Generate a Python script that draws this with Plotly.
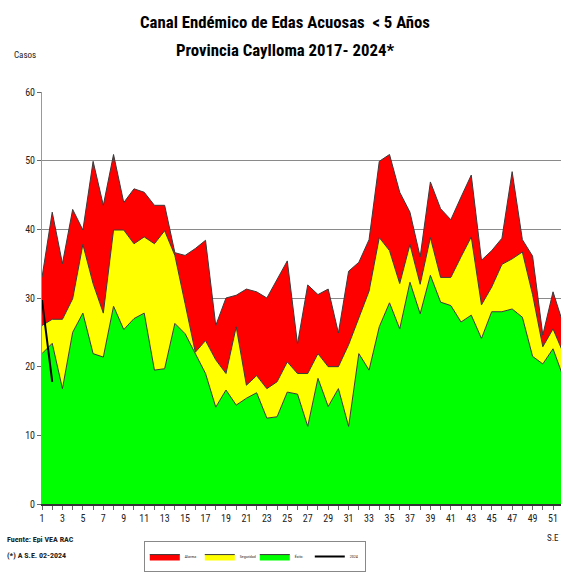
import plotly.graph_objects as go

weeks = list(range(1, 53))

alarma = [33.0, 42.5, 35.0, 42.9, 39.9, 49.9, 43.5, 50.9, 43.9, 45.9,
          45.4, 43.5, 43.5, 36.6, 36.2, 37.2, 38.4, 26.0, 30.0, 30.4,
          31.3, 30.9, 30.0, 32.6, 35.4, 23.3, 31.9, 30.5, 31.3, 24.9,
          33.9, 35.2, 38.5, 49.9, 50.9, 45.4, 42.5, 36.0, 46.9, 43.0,
          41.4, 44.7, 47.9, 35.5, 36.9, 38.7, 48.4, 38.5, 36.1, 24.6,
          30.9, 26.2]

seguridad = [26.0, 26.9, 26.9, 29.9, 37.8, 32.1, 27.8, 39.9, 39.9, 37.9,
             38.9, 37.9, 39.8, 36.2, 29.2, 22.1, 23.8, 21.0, 19.0, 25.8,
             17.3, 18.7, 16.8, 17.8, 20.7, 19.0, 19.0, 21.9, 20.0, 20.0,
             23.2, 27.0, 31.0, 38.8, 36.9, 32.1, 37.8, 32.0, 38.8, 33.0,
             33.0, 36.0, 38.9, 29.0, 31.6, 34.9, 35.7, 36.7, 30.5, 22.9,
             25.5, 22.0]

exito = [21.9, 23.4, 16.8, 25.0, 27.8, 21.9, 21.4, 28.8, 25.4, 27.0,
         27.8, 19.5, 19.7, 26.3, 24.8, 21.9, 19.0, 14.1, 16.6, 14.4,
         15.4, 16.2, 12.5, 12.7, 16.3, 16.0, 11.3, 18.3, 14.2, 16.8,
         11.3, 21.9, 19.5, 25.8, 29.3, 25.5, 32.3, 27.7, 33.3, 29.4,
         28.9, 26.5, 27.5, 24.1, 28.0, 28.0, 28.4, 27.2, 21.5, 20.4,
         22.6, 18.5]

weeks_2024 = [1, 2]
casos_2024 = [29.7, 17.8]

tick_labels = [str(w) if w % 2 == 1 else "" for w in weeks]

narrow = "Roboto Condensed, Liberation Sans, Arial, sans-serif"
outline = dict(color="#3a3a3a", width=1)

fig = go.Figure()
fig.add_trace(go.Scatter(x=weeks, y=exito, name="Éxito", mode="lines",
                         fill="tozeroy", fillcolor="#00FF00", line=outline,
                         legendrank=3))
fig.add_trace(go.Scatter(x=weeks, y=seguridad, name="Seguridad", mode="lines",
                         fill="tonexty", fillcolor="#FFFF00", line=outline,
                         legendrank=2))
fig.add_trace(go.Scatter(x=weeks, y=alarma, name="Alarma", mode="lines",
                         fill="tonexty", fillcolor="#FF0000", line=outline,
                         legendrank=1))
fig.add_trace(go.Scatter(x=weeks_2024, y=casos_2024, name="2024", mode="lines",
                         line=dict(color="#000000", width=2), legendrank=4))

fig.update_layout(
    width=561, height=574,
    margin=dict(l=42, r=0, t=92, b=70),
    paper_bgcolor="white", plot_bgcolor="white",
    font=dict(family=narrow, color="#222222", size=10),
    showlegend=True,
    legend=dict(orientation="h", traceorder="normal",
                x=0.41, xanchor="center", y=-0.09, yanchor="top",
                bordercolor="#888888", borderwidth=1, font=dict(size=4),
                itemwidth=30, entrywidth=10, bgcolor="white", tracegroupgap=0),
    xaxis=dict(range=[1, 51.78], tickvals=weeks, ticktext=tick_labels,
               ticks="outside", ticklen=4, tickcolor="#666666",
               showgrid=False, zeroline=False, showline=True,
               linecolor="#333333", linewidth=1.5,
               tickfont=dict(size=10, family=narrow, color="#222222")),
    yaxis=dict(range=[0, 60], dtick=10, ticks="outside", ticklen=4,
               tickcolor="#666666", showgrid=True, gridcolor="#8a8a8a",
               gridwidth=1.2, zeroline=False, showline=True,
               linecolor="#999999", linewidth=1,
               tickfont=dict(size=10, family=narrow, color="#222222")),
    annotations=[
        dict(text="<b>Canal Endémico de Edas Acuosas  < 5 Años</b>",
             xref="paper", yref="paper", x=0.468, y=1.170,
             xanchor="center", yanchor="middle", showarrow=False,
             font=dict(size=16.8, family=narrow, color="#000000")),
        dict(text="<b>Provincia Caylloma 2017- 2024*</b>",
             xref="paper", yref="paper", x=0.468, y=1.1019,
             xanchor="center", yanchor="middle", showarrow=False,
             font=dict(size=16.8, family=narrow, color="#000000")),
        dict(text="Casos", xref="paper", yref="paper",
             x=-0.033, y=1.0898, xanchor="center", yanchor="middle",
             showarrow=False, font=dict(size=9, family=narrow, color="#222222")),
        dict(text="S.E", xref="paper", yref="paper",
             x=0.984, y=-0.083, xanchor="center", yanchor="middle",
             showarrow=False, font=dict(size=9, family=narrow, color="#222222")),
        dict(text="<b>Fuente: Epi VEA RAC</b>", xref="paper", yref="paper",
             x=-0.072, y=-0.087, xanchor="left", yanchor="middle",
             showarrow=False, font=dict(size=8, family=narrow, color="#222222")),
        dict(text="<b>(*) A S.E. 02-2024</b>", xref="paper", yref="paper",
             x=-0.072, y=-0.124, xanchor="left", yanchor="middle",
             showarrow=False, font=dict(size=8, family=narrow, color="#222222")),
    ],
)

fig.write_html("out.html", config={"displayModeBar": False},
               post_script="document.body.style.margin='0px';document.body.style.overflow='hidden';")
